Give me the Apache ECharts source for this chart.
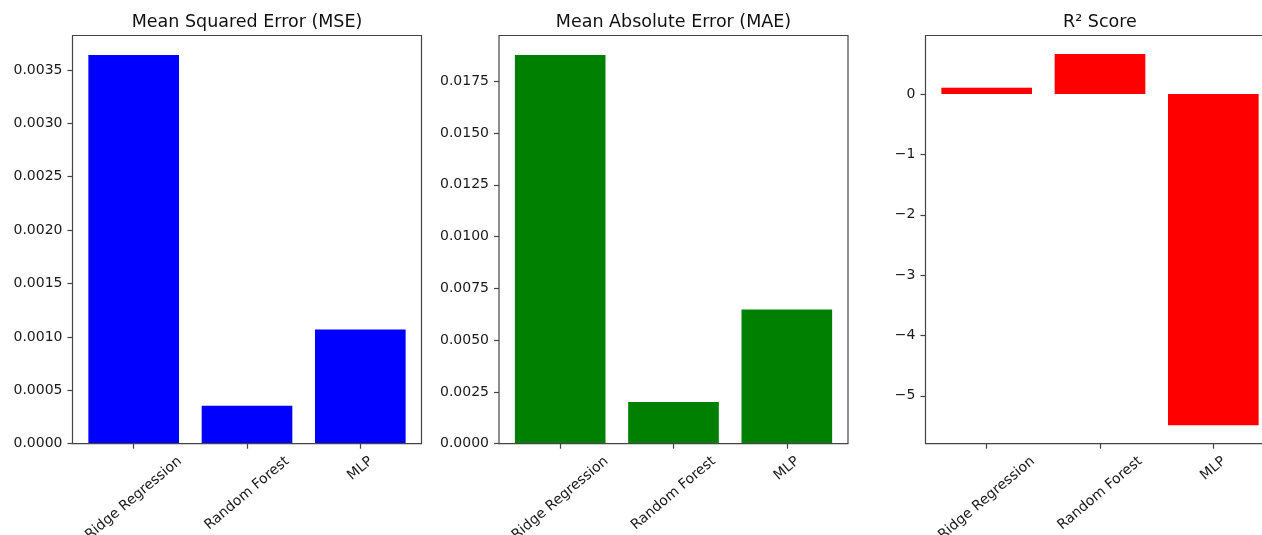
<!DOCTYPE html>
<html>
<head>
<meta charset="utf-8">
<script src="https://cdn.jsdelivr.net/npm/echarts@6/dist/echarts.min.js"></script>
<style>
  html, body { margin: 0; padding: 0; background: #fff; }
  #chart { width: 1262px; height: 535px; }
</style>
</head>
<body>
<div id="chart"></div>
<script>
// Model comparison: three metrics for three regressors
const categories = ['Ridge Regression', 'Random Forest', 'MLP'];
const mseValues = [0.00364, 0.000355, 0.001069];
const maeValues = [0.018773, 0.00201, 0.00648];
const r2Values = [0.105, 0.664, -5.487];

const mseTicks = [0, 0.0005, 0.001, 0.0015, 0.002, 0.0025, 0.003, 0.0035];
const maeTicks = [0, 0.0025, 0.005, 0.0075, 0.01, 0.0125, 0.015, 0.0175];
const r2Ticks = [-5, -4, -3, -2, -1, 0];

const titles = ['Mean Squared Error (MSE)', 'Mean Absolute Error (MAE)', 'R\u00b2 Score'];
const colors = ['#0000ff', '#008000', '#ff0000'];

// layout (pixels)
const FONT = '"DejaVu Sans", sans-serif';
const TICK_FS = 14;
const TITLE_FS = 17.5;
const panelLefts = [72.5, 499, 925.5];
const panelWidth = 349;
const panelTop = 35.5;
const panelBottom = 443.7;
const unit = panelWidth / 3.08;          // one category step
const inset = 0.04 * unit;               // gap between frame and first/last band
const axisColor = '#444';
const textColor = '#1a1a1a';

// rotated category labels, centred under their ticks
const ROT = 40;
const th = ROT * Math.PI / 180;
const ctx = document.createElement('canvas').getContext('2d');
ctx.font = TICK_FS + 'px "DejaVu Sans"';
const LH = 15;
const GAP = 10;
const M = 2;
const rich = {};
categories.forEach((c, i) => {
  const L = ctx.measureText(c).width;
  const H = L * Math.sin(th) + LH * Math.cos(th);
  const D = GAP - M + H / 2;
  rich['c' + i] = {
    fontFamily: FONT, fontSize: TICK_FS, color: textColor, lineHeight: LH,
    padding: [2 * Math.cos(th) * D, 2 * Math.sin(th) * D, 0, 0]
  };
});

function extentOf(vals) {
  const hi = Math.max(0, ...vals), lo = Math.min(0, ...vals);
  const span = hi - lo;
  return lo < 0 ? [lo - 0.05 * span, hi + 0.05 * span] : [0, hi * 1.05];
}

const grids = [], xAxes = [], yAxes = [], series = [], title = [];
const datasets = [
  { values: mseValues, ticks: mseTicks, fmt: v => v.toFixed(4) },
  { values: maeValues, ticks: maeTicks, fmt: v => v.toFixed(4) },
  { values: r2Values, ticks: r2Ticks, fmt: v => (v < 0 ? '\u2212' + Math.abs(v) : String(v)) }
];

datasets.forEach((d, k) => {
  const left = panelLefts[k];
  const [ymin, ymax] = extentOf(d.values);
  // plotting grid (inset horizontally so bars sit like in a 0.8-width bar plot)
  grids.push({
    left: left + inset, width: 3 * unit,
    top: panelTop, height: panelBottom - panelTop,
    containLabel: false, outerBoundsMode: 'none'
  });
  // frame grid drawn over the bars
  grids.push({
    left: left, width: panelWidth, top: panelTop, height: panelBottom - panelTop,
    containLabel: false, outerBoundsMode: 'none',
    show: true, borderColor: axisColor, borderWidth: 1.2,
    backgroundColor: 'transparent', z: 5
  });
  const g = 2 * k;
  xAxes.push({
    type: 'category', gridIndex: g, data: categories, position: 'bottom',
    axisLine: { show: false, onZero: false },
    axisTick: { show: true, alignWithLabel: true, length: 5, lineStyle: { color: axisColor, width: 1.2 } },
    axisLabel: {
      interval: 0, rotate: ROT, margin: M, align: 'center', verticalAlign: 'middle',
      formatter: (v) => '{c' + categories.indexOf(v) + '|' + v + '}',
      rich: rich
    },
    splitLine: { show: false }
  });
  xAxes.push({ type: 'value', gridIndex: g + 1, show: false, min: 0, max: 1 });
  yAxes.push({
    type: 'value', gridIndex: g, min: ymin, max: ymax, offset: inset,
    axisLine: { show: false },
    axisTick: { show: true, length: 5, customValues: d.ticks, lineStyle: { color: axisColor, width: 1.2 } },
    axisLabel: {
      customValues: d.ticks, margin: 10, formatter: d.fmt,
      fontFamily: FONT, fontSize: TICK_FS, color: textColor
    },
    splitLine: { show: false }
  });
  yAxes.push({ type: 'value', gridIndex: g + 1, show: false, min: 0, max: 1 });
  series.push({
    type: 'bar', xAxisIndex: 2 * k, yAxisIndex: 2 * k,
    data: d.values, barWidth: '80%',
    itemStyle: { color: colors[k] },
    silent: true, animation: false
  });
  title.push({
    text: titles[k], left: left + panelWidth / 2, top: 13, textAlign: 'center', padding: 0,
    textStyle: { fontFamily: FONT, fontSize: TITLE_FS, fontWeight: 'normal', color: '#111' }
  });
});

const chart = echarts.init(document.getElementById('chart'), null, { renderer: 'canvas' });
chart.setOption({
  animation: false,
  backgroundColor: '#fff',
  title: title,
  grid: grids,
  xAxis: xAxes,
  yAxis: yAxes,
  series: series
});
</script>
</body>
</html>
